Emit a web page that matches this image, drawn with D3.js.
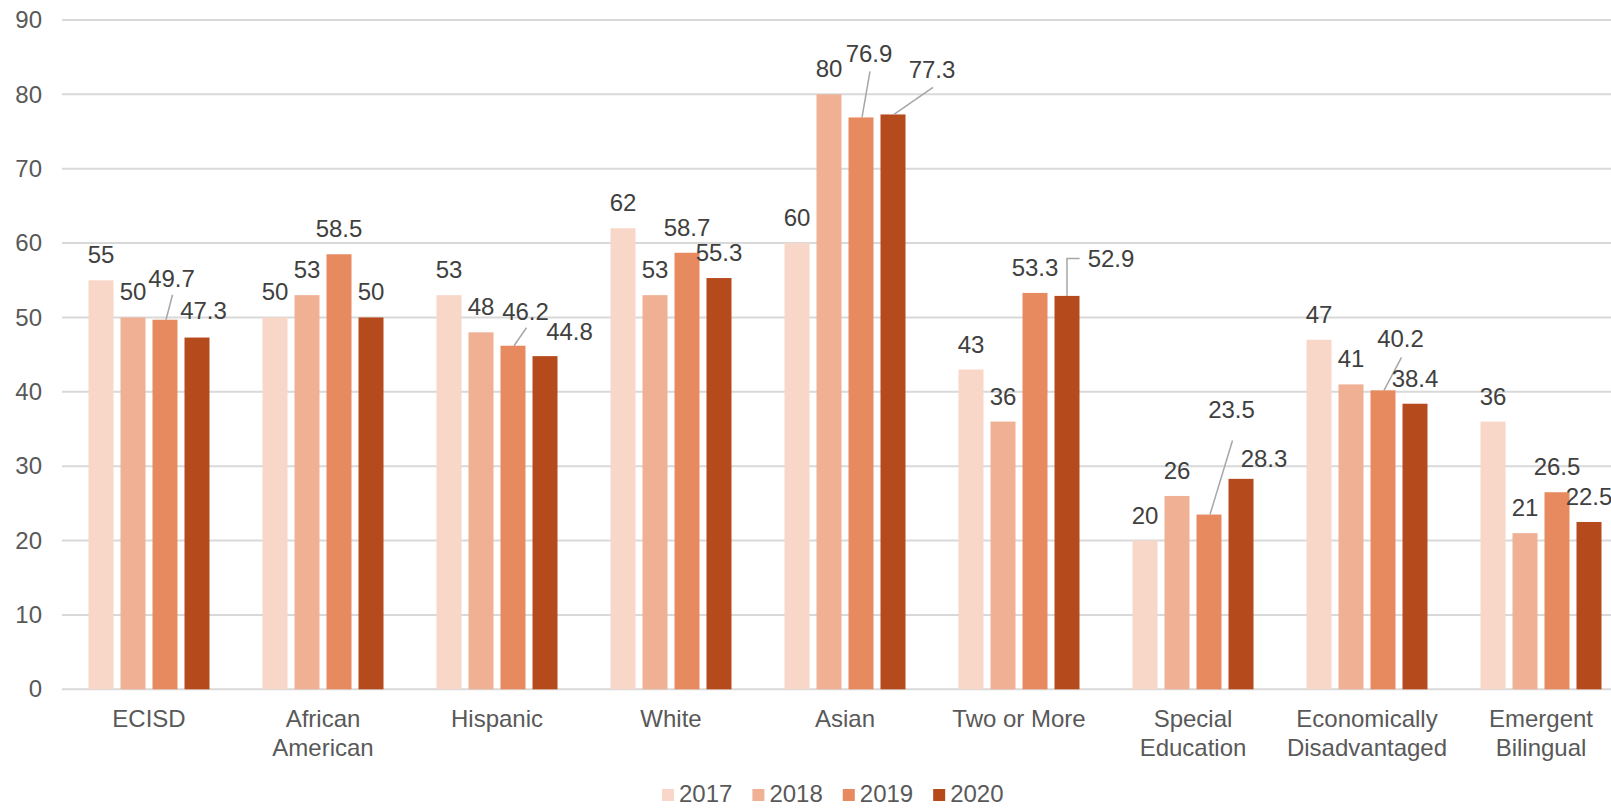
<!DOCTYPE html>
<html>
<head>
<meta charset="utf-8">
<script src="https://cdn.jsdelivr.net/npm/d3@7"></script>
<style>
  html, body { margin: 0; padding: 0; background: #fff; }
  svg { display: block; font-family: "Liberation Sans", Arial, sans-serif; }
</style>
</head>
<body>
<svg id="chart" width="1611" height="808"></svg>
<script>
// Student groups (multi-line labels split on "\n")
const categories = [
  "ECISD", "African\nAmerican", "Hispanic", "White", "Asian",
  "Two or More", "Special\nEducation", "Economically\nDisadvantaged", "Emergent\nBilingual"
];
const years = ["2017", "2018", "2019", "2020"];
const values2017 = [55, 50, 53, 62, 60, 43, 20, 47, 36];
const values2018 = [50, 53, 48, 53, 80, 36, 26, 41, 21];
const values2019 = [49.7, 58.5, 46.2, 58.7, 76.9, 53.3, 23.5, 40.2, 26.5];
const values2020 = [47.3, 50, 44.8, 55.3, 77.3, 52.9, 28.3, 38.4, 22.5];
const yTicks = [0, 10, 20, 30, 40, 50, 60, 70, 80, 90];

const seriesValues = [values2017, values2018, values2019, values2020];
const colors = ["#f8d7c9", "#f0b094", "#e88a60", "#b54a1c"];

// Hand-placed data labels that were moved off their default spot
// key: "categoryIndex-seriesIndex"
const labelNudges = {
  "0-2": { dx: 6.5, dy: -16, leader: "line", gap: 8 },
  "0-3": { dx: 6.5, dy: -2 },
  "2-2": { dx: 12.5, dy: -9, leader: "line", gap: 8 },
  "2-3": { dx: 24.5, dy: 1 },
  "4-2": { dx: 8, dy: -38, leader: "line", gap: 9 },
  "4-3": { dx: 39, dy: -19, leader: "line", gap: 9 },
  "5-3": { dx: 44, dy: -12, leader: "elbow" },
  "6-2": { dx: 22.5, dy: -80, leader: "line", gap: 23 },
  "6-3": { dx: 23, dy: 5 },
  "7-2": { dx: 17.5, dy: -26, leader: "line", gap: 10 }
};

const rows = categories.map((c, i) => ({
  category: c,
  index: i,
  values: years.map((y, s) => ({ year: y, s, value: seriesValues[s][i] }))
}));

const svg = d3.select("#chart");
const W = 1611, H = 808;
svg.append("rect").attr("width", W).attr("height", H).attr("fill", "#fff");

const plotLeft = 62, plotRight = 1628, plotTop = 20, plotBottom = 689.3;

const x = d3.scaleBand().domain(categories).range([plotLeft, plotRight]).paddingInner(0).paddingOuter(0);
const xInner = d3.scaleBand().domain(years).range([0, x.bandwidth()]).paddingInner(0.21875).paddingOuter(0.828);
const y = d3.scaleLinear().domain([0, 90]).range([plotBottom, plotTop]);

// Horizontal gridlines (the 0 line doubles as the category axis)
svg.append("g")
  .selectAll("line")
  .data(yTicks)
  .join("line")
  .attr("x1", plotLeft)
  .attr("x2", W)
  .attr("y1", d => y(d))
  .attr("y2", d => y(d))
  .attr("stroke", "#d9d9d9")
  .attr("stroke-width", 2);

// Value axis labels
const yAxis = d3.axisLeft(y).tickValues(yTicks).tickSize(0).tickPadding(0).tickFormat(d3.format("d"));
const yAxisG = svg.append("g").attr("transform", "translate(42,0)").call(yAxis);
yAxisG.select(".domain").remove();
yAxisG.selectAll("text")
  .attr("font-size", 24)
  .attr("fill", "#595959")
  .attr("font-family", "Liberation Sans, Arial, sans-serif");

// Bars
const groups = svg.append("g")
  .selectAll("g")
  .data(rows)
  .join("g")
  .attr("transform", d => `translate(${x(d.category)},0)`);

groups.selectAll("rect")
  .data(d => d.values)
  .join("rect")
  .attr("x", d => xInner(d.year))
  .attr("y", d => y(d.value))
  .attr("width", xInner.bandwidth())
  .attr("height", d => y(0) - y(d.value))
  .attr("fill", d => colors[d.s]);

// Data labels with optional leader lines
const labelLayer = svg.append("g");
const fmt = v => String(v);
rows.forEach(r => {
  r.values.forEach(v => {
    const cx = x(r.category) + xInner(v.year) + xInner.bandwidth() / 2;
    const top = y(v.value);
    const n = labelNudges[`${r.index}-${v.s}`] || { dx: 0, dy: 0 };
    const lx = cx + n.dx;
    const baseline = top - 17 + n.dy;
    const text = labelLayer.append("text")
      .attr("x", lx)
      .attr("y", baseline)
      .attr("text-anchor", "middle")
      .attr("font-size", 24)
      .attr("fill", "#404040")
      .text(fmt(v.value));
    if (n.leader === "line") {
      labelLayer.append("line")
        .attr("x1", cx + 1)
        .attr("y1", top)
        .attr("x2", lx + 1)
        .attr("y2", baseline + n.gap)
        .attr("stroke", "#a6a6a6")
        .attr("stroke-width", 1.5);
    } else if (n.leader === "elbow") {
      const w = text.node().getComputedTextLength();
      const midY = baseline - 8.5;
      labelLayer.append("path")
        .attr("d", `M${cx},${top} V${midY} H${lx - w / 2 - 8}`)
        .attr("fill", "none")
        .attr("stroke", "#a6a6a6")
        .attr("stroke-width", 1.5);
    }
  });
});

// Category labels
const catLayer = svg.append("g");
categories.forEach(c => {
  const lines = c.split("\n");
  const t = catLayer.append("text")
    .attr("x", x(c) + x.bandwidth() / 2)
    .attr("y", 727)
    .attr("text-anchor", "middle")
    .attr("font-size", 24)
    .attr("fill", "#595959");
  lines.forEach((ln, k) => {
    t.append("tspan")
      .attr("x", x(c) + x.bandwidth() / 2)
      .attr("y", 727 + k * 29)
      .text(ln);
  });
});

// Legend
const legend = svg.append("g").attr("transform", "translate(662,0)");
let lxPos = 0;
years.forEach((yr, s) => {
  legend.append("rect")
    .attr("x", lxPos)
    .attr("y", 789)
    .attr("width", 12)
    .attr("height", 12)
    .attr("fill", colors[s]);
  const t = legend.append("text")
    .attr("x", lxPos + 17)
    .attr("y", 802)
    .attr("font-size", 24)
    .attr("fill", "#595959")
    .text(yr);
  lxPos += 17 + t.node().getComputedTextLength() + 20;
});
</script>
</body>
</html>
